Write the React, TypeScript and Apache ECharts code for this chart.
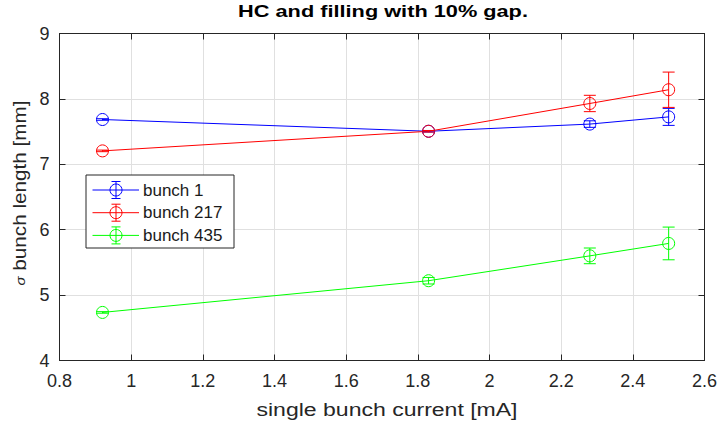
import React, { useEffect, useRef } from "react";
import * as echarts from "echarts";

const titleText = "HC and filling with 10% gap.";
const xAxisTitle = "single bunch current [mA]";
const yAxisTitle = "{s|σ} bunch length [mm]";
const seriesNames = ["bunch 1", "bunch 217", "bunch 435"];
const seriesColors = ["#0000ff", "#ff0000", "#00ff00"];
const currents = [0.92, 1.83, 2.28, 2.5];
const bunch1 = [7.685, 7.505, 7.615, 7.725];
const bunch217 = [7.205, 7.505, 7.93, 8.14];
const bunch435 = [4.735, 5.22, 5.6, 5.79];
const err1 = [0.012, 0.012, 0.05, 0.13];
const err217 = [0.012, 0.012, 0.125, 0.27];
const err435 = [0.012, 0.05, 0.12, 0.25];
const xTicks = [0.8, 1, 1.2, 1.4, 1.6, 1.8, 2, 2.2, 2.4, 2.6];
const yTicks = [4, 5, 6, 7, 8, 9];

const values = [bunch1, bunch217, bunch435];
const errors = [err1, err217, err435];

const AXIS = "#262626";
const GRIDC = "#e0e0e0";
const FONT = "Liberation Sans, Arial, sans-serif";

export default function App() {
  const ref = useRef<HTMLDivElement>(null);
  useEffect(() => {
    if (!ref.current) return;
    const chart = echarts.init(ref.current, undefined, { renderer: "svg" });
    const series: any[] = [];
    values.forEach((vals, i) => {
      series.push({
        name: seriesNames[i],
        type: "line",
        data: currents.map((c, j) => [c, vals[j]]),
        symbol: "circle",
        symbolSize: 12,
        itemStyle: { color: "rgba(0,0,0,0)", borderColor: seriesColors[i], borderWidth: 1 },
        lineStyle: { color: seriesColors[i], width: 1 },
        z: 3,
      });
      series.push({
        name: seriesNames[i] + " err",
        type: "custom",
        data: currents.map((c, j) => [c, vals[j], errors[i][j]]),
        z: 4,
        renderItem: (params: any, api: any) => {
          const x = api.value(0);
          const y = api.value(1);
          const e = api.value(2);
          const lo = api.coord([x, y - e]);
          const hi = api.coord([x, y + e]);
          const hw = 6;
          const style = { stroke: seriesColors[i], lineWidth: 1 };
          return {
            type: "group",
            children: [
              { type: "line", shape: { x1: lo[0], y1: lo[1], x2: hi[0], y2: hi[1] }, style },
              { type: "line", shape: { x1: lo[0] - hw, y1: lo[1], x2: lo[0] + hw, y2: lo[1] }, style },
              { type: "line", shape: { x1: hi[0] - hw, y1: hi[1], x2: hi[0] + hw, y2: hi[1] }, style },
            ],
          };
        },
      });
    });

    const legendX = 86;
    const legendY = 175;
    const rowH = 22.7;
    const ZL = 100;
    const graphics: any[] = [
      {
        type: "rect",
        z: ZL,
        shape: { x: legendX, y: legendY, width: 148, height: 73 },
        style: { fill: "#ffffff", stroke: AXIS, lineWidth: 1 },
      },
    ];
    seriesNames.forEach((n, i) => {
      const cy = legendY + 15 + i * rowH;
      const c = seriesColors[i];
      const st = { stroke: c, lineWidth: 1 };
      graphics.push(
        { type: "line", z: ZL + 1, shape: { x1: 92.5, y1: cy, x2: 139, y2: cy }, style: st },
        { type: "circle", z: ZL + 1, shape: { cx: 116, cy, r: 6 }, style: { fill: "none", stroke: c, lineWidth: 1 } },
        { type: "line", z: ZL + 1, shape: { x1: 116, y1: cy - 8.5, x2: 116, y2: cy + 8.5 }, style: st },
        { type: "line", z: ZL + 1, shape: { x1: 111.5, y1: cy - 8.5, x2: 120.5, y2: cy - 8.5 }, style: st },
        { type: "line", z: ZL + 1, shape: { x1: 111.5, y1: cy + 8.5, x2: 120.5, y2: cy + 8.5 }, style: st },
        {
          type: "text",
          z: ZL + 1,
          x: 143,
          y: cy,
          style: { text: n, fill: "#1a1a1a", font: `17px ${FONT}`, textVerticalAlign: "middle" },
        }
      );
    });
    graphics.push(
      {
        type: "text",
        z: ZL,
        x: 383,
        y: 12,
        scaleX: 1.36,
        style: {
          text: titleText,
          fill: "#000",
          font: `bold 16px ${FONT}`,
          textAlign: "center",
          textVerticalAlign: "middle",
        },
      },
      {
        type: "text",
        z: ZL,
        x: 387,
        y: 409,
        scaleX: 1.28,
        style: {
          text: xAxisTitle,
          fill: AXIS,
          font: `18px ${FONT}`,
          textAlign: "center",
          textVerticalAlign: "middle",
        },
      },
      {
        type: "text",
        z: ZL,
        x: 20,
        y: 193,
        rotation: Math.PI / 2,
        scaleX: 1.15,
        style: {
          text: yAxisTitle,
          fill: AXIS,
          font: `18px ${FONT}`,
          textAlign: "center",
          textVerticalAlign: "middle",
          rich: {
            s: { fontFamily: FONT, fontSize: 13, fontStyle: "italic", fill: AXIS },
          },
        },
      }
    );

    const option: any = {
      animation: false,
      backgroundColor: "#ffffff",
      grid: { left: 59.5, right: 14.5, top: 33.5, bottom: 61.5, containLabel: false },
      xAxis: [
        {
          type: "value",
          min: xTicks[0],
          max: xTicks[xTicks.length - 1],
          interval: 0.2,
          axisLine: { show: true, onZero: false, lineStyle: { color: AXIS, width: 1 } },
          axisTick: { inside: true, length: 6, lineStyle: { color: AXIS } },
          axisLabel: {
            fontFamily: FONT,
            fontSize: 18,
            color: AXIS,
            margin: 11,
            formatter: (v: number) => String(Math.round(v * 10) / 10),
          },
          splitLine: { show: true, lineStyle: { color: GRIDC, width: 1 } },
        },
        {
          type: "value",
          position: "top",
          min: xTicks[0],
          max: xTicks[xTicks.length - 1],
          interval: 0.2,
          axisLine: { show: true, onZero: false, lineStyle: { color: AXIS, width: 1 } },
          axisTick: { inside: true, length: 6, lineStyle: { color: AXIS } },
          axisLabel: { show: false },
          splitLine: { show: false },
        },
      ],
      yAxis: [
        {
          type: "value",
          min: yTicks[0],
          max: yTicks[yTicks.length - 1],
          interval: 1,
          axisLine: { show: true, onZero: false, lineStyle: { color: AXIS, width: 1 } },
          axisTick: { inside: true, length: 6, lineStyle: { color: AXIS } },
          axisLabel: { fontFamily: FONT, fontSize: 18, color: AXIS, margin: 10 },
          splitLine: { show: true, lineStyle: { color: GRIDC, width: 1 } },
        },
        {
          type: "value",
          position: "right",
          min: yTicks[0],
          max: yTicks[yTicks.length - 1],
          interval: 1,
          axisLine: { show: true, onZero: false, lineStyle: { color: AXIS, width: 1 } },
          axisTick: { inside: true, length: 6, lineStyle: { color: AXIS } },
          axisLabel: { show: false },
          splitLine: { show: false },
        },
      ],
      series,
      graphic: graphics,
    };
    chart.setOption(option);
    return () => chart.dispose();
  }, []);
  return <div ref={ref} style={{ width: 720, height: 422, position: "absolute", left: 0, top: 0 }} />;
}
